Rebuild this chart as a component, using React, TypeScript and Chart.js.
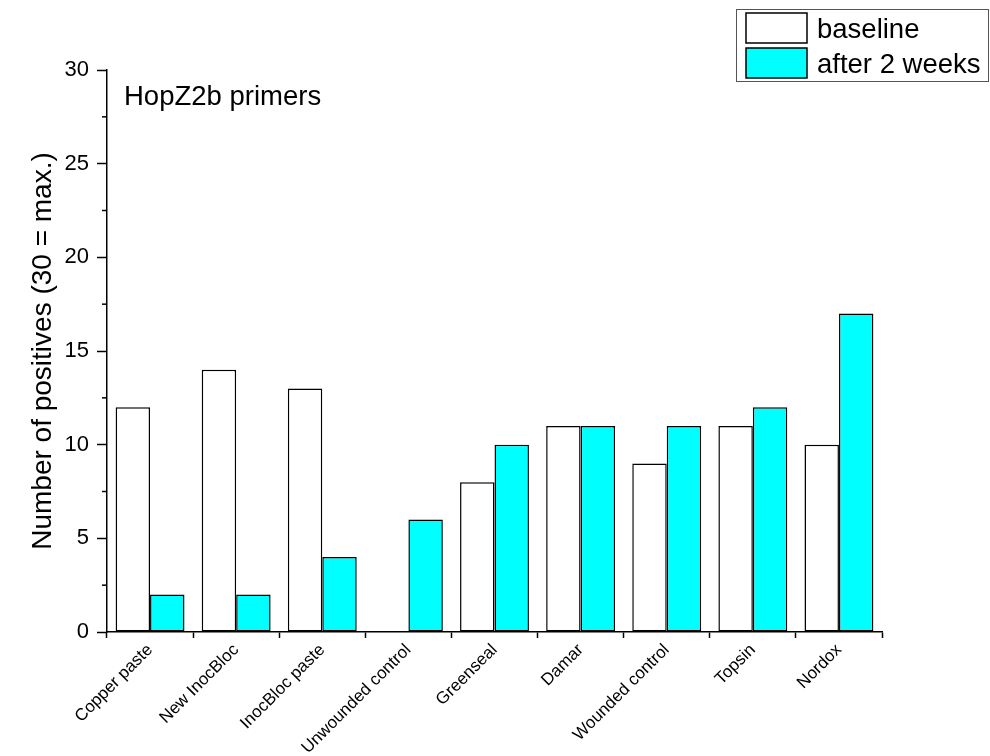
import React, { useEffect, useRef } from "react";
import { Chart, registerables } from "chart.js";

Chart.register(...registerables);

const categories = [
  "Copper paste",
  "New InocBloc",
  "InocBloc paste",
  "Unwounded control",
  "Greenseal",
  "Damar",
  "Wounded control",
  "Topsin",
  "Nordox",
];
const baselineValues = [12, 14, 13, 0, 8, 11, 9, 11, 10];
const afterTwoWeeksValues = [2, 2, 4, 6, 10, 11, 11, 12, 17];
const seriesNames = ["baseline", "after 2 weeks"];
const yMin = 0;
const yMax = 30;
const yStep = 5;
const annotationText = "HopZ2b primers";
const yTitle = "Number of positives (30 = max.)";

const FONT = "'Liberation Sans', Arial, Helvetica, sans-serif";

const minorTicksPlugin = {
  id: "minorTicks",
  afterDraw(chart: any) {
    const y = chart.scales.y;
    const ctx = chart.ctx;
    const x0 = chart.chartArea.left;
    const vals = y.ticks.map((t: any) => t.value);
    ctx.save();
    ctx.strokeStyle = "#000";
    ctx.lineWidth = 1.5;
    for (let i = 0; i < vals.length - 1; i++) {
      const v = (vals[i] + vals[i + 1]) / 2;
      const p = y.getPixelForValue(v);
      ctx.beginPath();
      ctx.moveTo(x0 - 5, p);
      ctx.lineTo(x0, p);
      ctx.stroke();
    }
    ctx.restore();
  },
};

const annotationPlugin = {
  id: "annotationText",
  afterDraw(chart: any) {
    const ctx = chart.ctx;
    const a = chart.chartArea;
    ctx.save();
    ctx.fillStyle = "#000";
    ctx.font = `27.5px ${FONT}`;
    ctx.textAlign = "left";
    ctx.textBaseline = "alphabetic";
    ctx.fillText(annotationText, a.left + 17, a.top + 35);
    ctx.restore();
  },
};

const boxLegendPlugin = {
  id: "boxLegend",
  afterDraw(chart: any) {
    const ctx = chart.ctx;
    const W = chart.width;
    const boxW = 252;
    const boxH = 72;
    const boxX = W - boxW - 2;
    const boxY = 9;
    ctx.save();
    ctx.fillStyle = "#fff";
    ctx.fillRect(boxX, boxY, boxW, boxH);
    ctx.strokeStyle = "#555";
    ctx.lineWidth = 1;
    ctx.strokeRect(boxX + 0.5, boxY + 0.5, boxW, boxH);
    chart.data.datasets.forEach((ds: any, i: number) => {
      const sy = boxY + 4 + i * 35;
      ctx.fillStyle = ds.backgroundColor;
      ctx.fillRect(boxX + 10, sy, 61, 30);
      ctx.strokeStyle = "#000";
      ctx.lineWidth = 1.5;
      ctx.strokeRect(boxX + 10, sy, 61, 30);
      ctx.fillStyle = "#000";
      ctx.font = `27.5px ${FONT}`;
      ctx.textAlign = "left";
      ctx.textBaseline = "alphabetic";
      ctx.fillText(ds.label, boxX + 81, sy + 25);
    });
    ctx.restore();
  },
};

export default function App() {
  const canvasRef = useRef<HTMLCanvasElement | null>(null);

  useEffect(() => {
    document.body.style.margin = "0";
    document.body.style.background = "#fff";
    const canvas = canvasRef.current;
    if (!canvas) return;
    const chart = new Chart(canvas, {
      type: "bar",
      data: {
        labels: categories,
        datasets: [
          {
            label: seriesNames[0],
            data: baselineValues,
            backgroundColor: "#ffffff",
            borderColor: "#000000",
            borderWidth: 1.5,
            borderSkipped: false,
            categoryPercentage: 0.8,
            barPercentage: 1.0,
          },
          {
            label: seriesNames[1],
            data: afterTwoWeeksValues,
            backgroundColor: "#00ffff",
            borderColor: "#000000",
            borderWidth: 1.5,
            borderSkipped: false,
            categoryPercentage: 0.8,
            barPercentage: 1.0,
          },
        ],
      },
      options: {
        responsive: false,
        animation: false,
        layout: { padding: { top: 70, right: 108, bottom: 0, left: 0 } },
        plugins: {
          legend: { display: false },
          tooltip: { enabled: false },
          title: { display: false },
        },
        scales: {
          x: {
            grid: {
              display: true,
              drawOnChartArea: false,
              drawTicks: true,
              tickLength: 6,
              tickColor: "#000",
              tickWidth: 1.5,
              offset: true,
            },
            border: { display: true, color: "#000", width: 1.5 },
            ticks: {
              color: "#000",
              font: { family: FONT, size: 17 },
              maxRotation: 45,
              minRotation: 45,
              autoSkip: false,
              padding: 2,
            },
            afterFit(scale: any) {
              scale.height = 124;
            },
          },
          y: {
            min: yMin,
            max: yMax,
            grid: {
              display: true,
              drawOnChartArea: false,
              drawTicks: true,
              tickLength: 10,
              tickColor: "#000",
              tickWidth: 1.5,
            },
            border: { display: true, color: "#000", width: 1.5 },
            ticks: {
              stepSize: yStep,
              color: "#000",
              font: { family: FONT, size: 22 },
              padding: 8,
            },
            title: {
              display: true,
              text: yTitle,
              color: "#000",
              font: { family: FONT, size: 28 },
              padding: { top: 26, bottom: 0 },
            },
            afterFit(scale: any) {
              scale.width = 107;
            },
          },
        },
      },
      plugins: [minorTicksPlugin, annotationPlugin, boxLegendPlugin],
    });
    return () => chart.destroy();
  }, []);

  return (
    <div style={{ width: 990, height: 756, background: "#fff" }}>
      <canvas ref={canvasRef} width={990} height={756} />
    </div>
  );
}
